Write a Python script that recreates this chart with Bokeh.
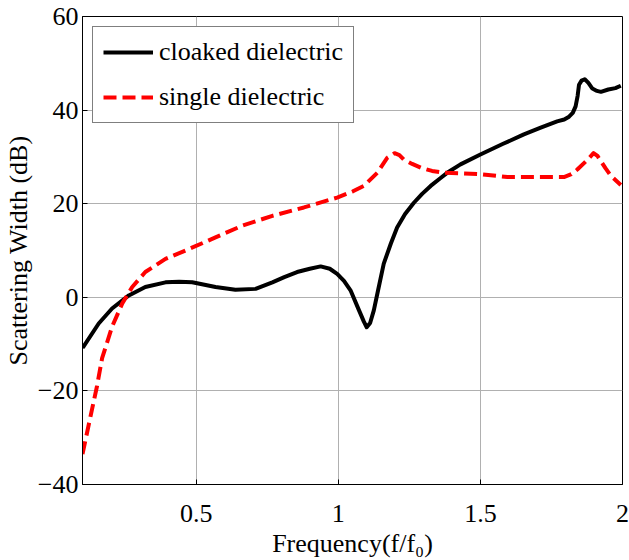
from bokeh.plotting import figure
from bokeh.models import FixedTicker, Legend, LegendItem
from bokeh.embed import file_html
from bokeh.resources import INLINE

cloak_x = [0.100, 0.104, 0.157, 0.204, 0.263, 0.321, 0.392, 0.440, 0.486, 0.568, 0.638, 0.709,
           0.768, 0.810, 0.855, 0.900, 0.938, 0.970, 0.996, 1.020, 1.043, 1.073, 1.090, 1.100,
           1.112, 1.125, 1.140, 1.160, 1.185, 1.207, 1.235, 1.266, 1.295, 1.325, 1.360, 1.383,
           1.430, 1.500, 1.580, 1.653, 1.710, 1.770, 1.795, 1.812, 1.825, 1.835, 1.842, 1.847,
           1.856, 1.867, 1.880, 1.894, 1.910, 1.924, 1.950, 1.975, 1.994]
cloak_y = [-10.8, -10.5, -5.6, -2.4, 0.4, 2.2, 3.2, 3.3, 3.2, 2.2, 1.6, 1.8,
           3.2, 4.3, 5.4, 6.1, 6.6, 6.1, 5.0, 3.5, 1.5, -2.8, -5.2, -6.4,
           -5.5, -2.8, 1.5, 7.2, 11.5, 14.9, 17.8, 20.2, 22.1, 23.8, 25.5, 26.6,
           28.4, 30.5, 32.8, 34.8, 36.2, 37.6, 38.0, 38.6, 39.4, 40.8, 43.0, 45.4,
           46.3, 46.6, 45.8, 44.6, 44.1, 43.9, 44.4, 44.7, 45.2]

single_x = [0.100, 0.128, 0.151, 0.169, 0.204, 0.240, 0.275, 0.321, 0.392, 0.474, 0.568, 0.662,
            0.768, 0.879, 0.996, 1.050, 1.090, 1.137, 1.172, 1.198, 1.215, 1.231, 1.260, 1.290,
            1.330, 1.372, 1.430, 1.500, 1.595, 1.700, 1.794, 1.820, 1.841, 1.877, 1.898, 1.912,
            1.924, 1.940, 1.960, 1.994]
single_y = [-33.5, -25.5, -19.0, -13.0, -6.3, -1.3, 2.2, 5.4, 8.2, 10.3, 12.8, 15.3,
            17.4, 19.2, 21.3, 22.6, 23.8, 26.6, 29.8, 30.8, 30.4, 29.4, 28.5, 27.7,
            27.0, 26.6, 26.5, 26.3, 25.7, 25.7, 25.7, 26.3, 27.3, 29.4, 30.8, 30.2,
            29.1, 27.6, 25.9, 24.0]

x_ticks = [0.5, 1, 1.5, 2]
x_tick_labels = {0.5: "0.5", 1: "1", 1.5: "1.5", 2: "2"}
y_ticks = [-40, -20, 0, 20, 40, 60]

FONT = "Liberation Serif"
FS = "26px"

p = figure(width=629, height=560, x_range=(0.1, 2.0), y_range=(-40, 60),
           output_backend="svg", toolbar_location=None,
           min_border_left=80, min_border_right=7, min_border_top=16, min_border_bottom=74)

l1 = p.line(cloak_x, cloak_y, line_color="black", line_width=4, line_join="round")
l2 = p.line(single_x, single_y, line_color="#ff0000", line_width=4, line_dash="13 6",
            line_join="round")

p.outline_line_color = "black"
p.outline_line_width = 1

p.xaxis.ticker = FixedTicker(ticks=x_ticks)
p.xaxis.major_label_overrides = x_tick_labels
p.yaxis.ticker = FixedTicker(ticks=y_ticks)

for ax in (p.xaxis, p.yaxis):
    ax.major_tick_in = 5
    ax.major_tick_out = 0
    ax.minor_tick_in = 0
    ax.minor_tick_out = 0
    ax.major_label_text_font = FONT
    ax.major_label_text_font_size = FS
    ax.major_label_text_color = "black"
    ax.axis_label_text_font = FONT
    ax.axis_label_text_font_size = FS
    ax.axis_label_text_font_style = "normal"
    ax.axis_label_text_color = "black"
    ax.axis_line_color = "black"

p.xaxis.axis_label = "Frequency(f/f\u2080)"
p.yaxis.axis_label = "Scattering Width (dB)"
p.xaxis.major_label_standoff = 20
p.yaxis.major_label_standoff = 4
p.xaxis.axis_label_standoff = 4
p.yaxis.axis_label_standoff = 2

p.grid.grid_line_color = "#b0b0b0"
p.grid.grid_line_width = 1

legend = Legend(items=[LegendItem(label="cloaked dielectric", renderers=[l1]),
                       LegendItem(label="single dielectric", renderers=[l2])])
p.add_layout(legend, "center")
legend.location = "top_left"
legend.margin = 10
legend.label_text_font = FONT
legend.label_text_font_size = FS
legend.label_text_color = "black"
legend.glyph_width = 50
legend.glyph_height = 26
legend.label_height = 26
legend.spacing = 15
legend.padding = 10
legend.label_standoff = 6
legend.border_line_color = "black"
legend.border_line_width = 1
legend.background_fill_alpha = 1

open("out.html", "w").write(file_html(p, INLINE))
